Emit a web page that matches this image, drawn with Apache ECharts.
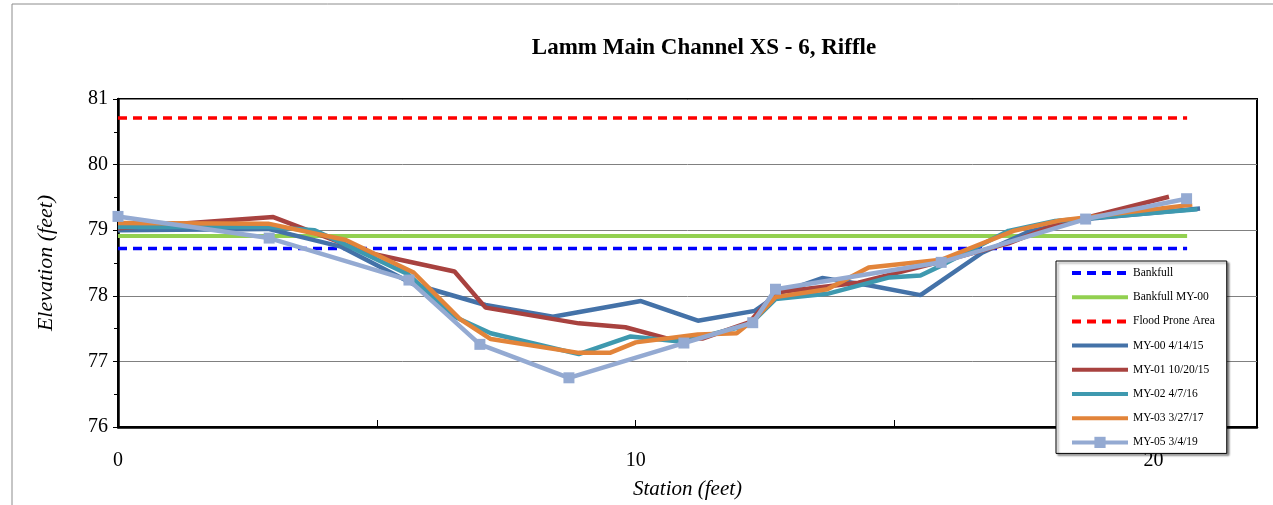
<!DOCTYPE html>
<html>
<head>
<meta charset="utf-8">
<script src="https://cdn.jsdelivr.net/npm/echarts@6/dist/echarts.min.js"></script>
<style>
html,body{margin:0;padding:0;background:#fff;}
#main{width:1273px;height:505px;}
</style>
</head>
<body>
<div id="main"></div>
<script>
// ---- data ----
const bankfull = [[0, 78.72], [20.65, 78.72]];
const bankfullMY00 = [[0, 78.91], [20.65, 78.91]];
const floodProne = [[0, 80.71], [20.65, 80.71]];

const my00Station = [0, 2.9, 4.3, 5.7, 7.1, 8.4, 10.1, 11.2, 12.3, 12.8, 13.6, 14.5, 15.5, 16.7, 17.6, 18.7, 20.9];
const my00Elev    = [79.0, 79.02, 78.75, 78.18, 77.86, 77.68, 77.92, 77.62, 77.77, 78.05, 78.27, 78.16, 78.01, 78.66, 78.98, 79.17, 79.33];

const my01Station = [0, 3.0, 4.8, 6.5, 7.1, 8.9, 9.8, 10.6, 11.3, 12.2, 12.7, 14.3, 15.9, 17.2, 18.0, 20.3];
const my01Elev    = [79.03, 79.2, 78.66, 78.37, 77.82, 77.58, 77.52, 77.35, 77.35, 77.6, 78.05, 78.2, 78.52, 78.8, 79.05, 79.51];

const my02Station = [0, 2.9, 3.8, 5.6, 6.5, 7.2, 8.9, 9.9, 10.9, 12.2, 12.7, 13.7, 14.9, 15.5, 15.9, 17.2, 18.1, 20.85];
const my02Elev    = [79.05, 79.05, 79.0, 78.33, 77.68, 77.43, 77.11, 77.38, 77.3, 77.56, 77.95, 78.03, 78.28, 78.31, 78.46, 78.99, 79.14, 79.32];

const my03Station = [0, 2.9, 4.4, 5.7, 6.6, 7.2, 8.9, 9.5, 10.0, 11.2, 11.95, 12.3, 12.7, 13.7, 14.5, 15.9, 17.3, 18.2, 20.75];
const my03Elev    = [79.11, 79.1, 78.85, 78.36, 77.65, 77.34, 77.13, 77.13, 77.29, 77.41, 77.43, 77.65, 77.98, 78.1, 78.43, 78.55, 78.99, 79.15, 79.39];

const my05Station = [0, 2.92, 5.62, 6.99, 8.71, 10.93, 12.26, 12.7, 15.9, 18.69, 20.64];
const my05Elev    = [79.21, 78.88, 78.24, 77.26, 76.75, 77.28, 77.59, 78.10, 78.51, 79.17, 79.48];

const xTicks = [0, 10, 20];
const yTicks = [76, 77, 78, 79, 80, 81];

function pairs(xs, ys) { return xs.map((x, i) => [x, ys[i]]); }

const SERIF = "'Liberation Serif', 'Times New Roman', serif";

const chart = echarts.init(document.getElementById('main'), null, {renderer: 'canvas'});

function refLine(name, data, color, type, width) {
  return {
    name: name, type: 'line', data: data, symbol: 'none', silent: true,
    lineStyle: {color: color, type: type, width: width}, itemStyle: {color: color}
  };
}
function dataLine(name, data, color) {
  return {
    name: name, type: 'line', data: data, symbol: 'none',
    lineStyle: {color: color, width: 4.5}, itemStyle: {color: color}
  };
}
const hideSym = {opacity: 0};

chart.setOption({
  animation: false,
  backgroundColor: '#fff',
  graphic: [{
    type: 'rect', shape: {x: 12, y: 4, width: 1300, height: 520},
    style: {fill: null, stroke: '#8c8c8c', lineWidth: 1}, silent: true, z: -1
  }],
  title: {
    text: 'Lamm Main Channel XS - 6, Riffle',
    left: 699, top: 32, textAlign: 'center',
    textStyle: {fontFamily: SERIF, fontWeight: 'bold', fontSize: 23, color: '#000'}
  },
  grid: {
    left: 118, top: 99, right: 1273 - 1257, bottom: 505 - 432,
    show: true, borderColor: '#000', borderWidth: 2, backgroundColor: 'transparent'
  },
  legend: {
    orient: 'vertical', left: 1056, top: 261,
    padding: [5, 12, 4, 14],
    itemWidth: 56, itemHeight: 14, itemGap: 10.2,
    backgroundColor: '#fff', borderColor: '#000', borderWidth: 1,
    shadowColor: 'rgba(0,0,0,0.45)', shadowBlur: 2, shadowOffsetX: 2, shadowOffsetY: 2,
    lineStyle: {width: 4},
    textStyle: {fontFamily: SERIF, fontSize: 11.5, color: '#000', lineHeight: 14},
    data: [
      {name: 'Bankfull', itemStyle: hideSym},
      {name: 'Bankfull MY-00', itemStyle: hideSym},
      {name: 'Flood Prone Area', itemStyle: hideSym},
      {name: 'MY-00 4/14/15', itemStyle: hideSym},
      {name: 'MY-01 10/20/15', itemStyle: hideSym},
      {name: 'MY-02 4/7/16', itemStyle: hideSym},
      {name: 'MY-03 3/27/17', itemStyle: hideSym},
      {name: 'MY-05 3/4/19'}
    ],
    z: 20
  },
  xAxis: {
    type: 'value', min: 0, max: 22, interval: 10,
    name: 'Station (feet)', nameLocation: 'middle', nameGap: 52,
    nameTextStyle: {fontFamily: SERIF, fontStyle: 'italic', fontSize: 21, color: '#000'},
    axisLine: {show: true, lineStyle: {color: '#000', width: 2.5}},
    axisTick: {show: true, inside: true, length: 7, lineStyle: {color: '#000', width: 1}},
    minorTick: {show: true, splitNumber: 2, length: 7, lineStyle: {color: '#000', width: 1}},
    splitLine: {show: false},
    axisLabel: {
      fontFamily: SERIF, fontSize: 20, color: '#000', margin: 24,
      formatter: v => (xTicks.indexOf(v) >= 0 ? String(v) : '')
    }
  },
  yAxis: {
    type: 'value', min: 76, max: 81, interval: 1,
    name: 'Elevation (feet)', nameLocation: 'middle', nameGap: 61,
    nameTextStyle: {fontFamily: SERIF, fontStyle: 'italic', fontSize: 22, color: '#000'},
    axisLine: {show: true, lineStyle: {color: '#000', width: 2.5}},
    axisTick: {show: true, inside: false, length: 5, lineStyle: {color: '#000', width: 1}},
    minorTick: {show: true, splitNumber: 2, length: 4, lineStyle: {color: '#000', width: 1}},
    splitLine: {show: true, lineStyle: {color: '#808080', width: 1}},
    axisLabel: {
      fontFamily: SERIF, fontSize: 20, color: '#000', margin: 10,
      formatter: v => (yTicks.indexOf(v) >= 0 ? String(v) : '')
    }
  },
  series: [
    refLine('Bankfull', bankfull, '#0000FF', [9, 6], 3.5),
    refLine('Bankfull MY-00', bankfullMY00, '#92D050', 'solid', 4),
    refLine('Flood Prone Area', floodProne, '#FF0000', [9, 6], 3.5),
    dataLine('MY-00 4/14/15', pairs(my00Station, my00Elev), '#4472A8'),
    dataLine('MY-01 10/20/15', pairs(my01Station, my01Elev), '#A8423F'),
    dataLine('MY-02 4/7/16', pairs(my02Station, my02Elev), '#3E99AF'),
    dataLine('MY-03 3/27/17', pairs(my03Station, my03Elev), '#E2843A'),
    {
      name: 'MY-05 3/4/19', type: 'line', data: pairs(my05Station, my05Elev),
      symbol: 'rect', symbolSize: 11,
      lineStyle: {color: '#94AAD2', width: 4.5}, itemStyle: {color: '#94AAD2'}
    }
  ]
});
</script>
</body>
</html>
